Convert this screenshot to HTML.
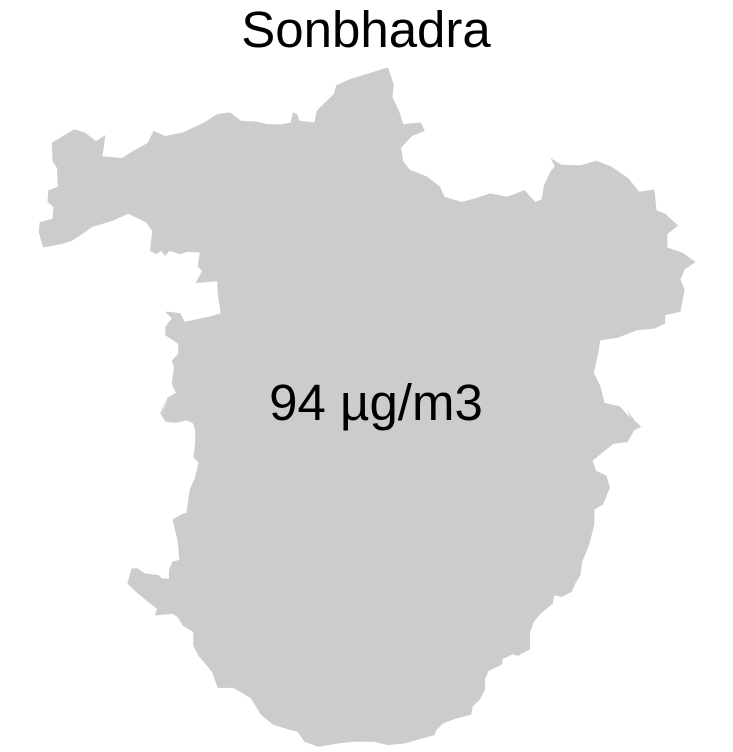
<!DOCTYPE html>
<html><head><meta charset="utf-8"><style>
html,body{margin:0;padding:0;background:#fff;}
svg{display:block;}
</style></head><body>
<svg id="map" width="733" height="752" viewBox="0 0 733 752" xmlns="http://www.w3.org/2000/svg">
<text x="366" y="47" text-anchor="middle" font-family="Liberation Sans, sans-serif" font-size="51" fill="#000">Sonbhadra</text>
<path id="shape" fill="#cccccc" stroke="none"/>
<text x="376" y="420" text-anchor="middle" font-family="Liberation Sans, sans-serif" font-size="51" fill="#000">94 µg/m3</text>
</svg>
<script>
// outline, in two crop coordinate frames
const topOutline = [[48,245],[100,205],[125,215],[150,240],[172,222],[165,285],[210,290],[235,270],[270,245],[283,210],[310,225],[350,215],[400,185],[430,160],[460,155],[485,180],[520,182],[545,190],[580,190],[600,185],[605,155],[615,160],[620,180],[655,185],[660,150],[700,100],[705,75],[740,55],[825,22],[838,75],[835,110],[850,150],[860,190],[900,185],[910,210],[880,225],[855,260],[860,300],[875,325],[915,345],[945,375],[955,405],[995,420],[1025,410],[1060,395],[1100,405],[1140,385],[1165,420],[1180,412],[1185,370],[1200,330],[1210,315],[1200,290],[1225,310],[1270,312],[1305,298],[1340,315],[1380,350],[1405,390],[1440,383],[1445,445],[1465,455],[1495,490],[1470,515],[1470,555],[1505,570],[1535,598],[1510,620],[1500,650],[1510,680],[1500,745],[1465,755],[1465,780],[1440,795],[1400,800],[1355,822],[1315,830],[1310,870],[1300,925],[1315,965],[1325,1015],[1360,1025],[1385,1060]];
const bottomOutline = [[1490,30],[1510,60],[1530,80],[1510,90],[1490,125],[1450,130],[1390,180],[1400,210],[1430,225],[1440,260],[1420,310],[1395,325],[1395,370],[1390,390],[1380,430],[1360,480],[1355,520],[1340,545],[1330,570],[1300,585],[1280,580],[1275,605],[1240,635],[1220,660],[1210,690],[1210,740],[1175,760],[1160,755],[1130,770],[1130,785],[1090,805],[1080,830],[1080,860],[1065,890],[1045,910],[1040,935],[1000,945],[960,960],[940,980],[935,995],[900,1005],[850,1020],[800,1025],[760,1015],[700,1015],[660,1020],[600,1030],[560,1015],[540,985],[520,980],[470,965],[435,935],[405,885],[355,855],[310,855],[295,810],[280,790],[255,760],[240,730],[240,690],[210,670],[195,645],[180,635],[130,640],[135,620],[110,600],[75,570],[50,545],[62,500],[80,500],[100,515],[140,520],[150,530],[170,530],[170,505],[180,480],[200,475],[195,420],[180,355],[205,340],[220,335],[225,300],[230,265],[245,230],[255,185],[240,170],[245,130],[245,90],[240,70],[220,60],[190,68],[160,65],[145,40],[160,0]];
const leftOutline = [[300,1060],[315,1000],[335,985],[325,960],[330,910],[325,890],[340,870],[340,840],[310,815],[310,790],[325,765],[310,745],[320,745],[345,750],[355,775],[410,760],[438,750],[432,700],[430,655],[380,660],[395,625],[385,610],[390,570],[360,568],[345,575],[320,565],[310,580],[300,565],[290,575],[275,565],[280,505],[265,480],[225,455],[190,475],[140,495],[130,505],[95,535],[70,545],[40,552],[28,555],[18,510],[20,480],[50,470],[52,435],[38,420],[40,385],[62,375],[60,320],[50,300]];
function f1(p){return [31+p[0]/2.31, 60+p[1]/2.96];}
function f2(p){return [110+p[0]/2.88, 400+p[1]/2.97];}
const pts = topOutline.map(f1).concat(bottomOutline.map(f2)).concat(leftOutline.map(f1));
const d = 'M' + pts.map(p => p[0].toFixed(1)+','+p[1].toFixed(1)).join(' L') + ' Z';
document.getElementById('shape').setAttribute('d', d);
</script>
</body></html>
